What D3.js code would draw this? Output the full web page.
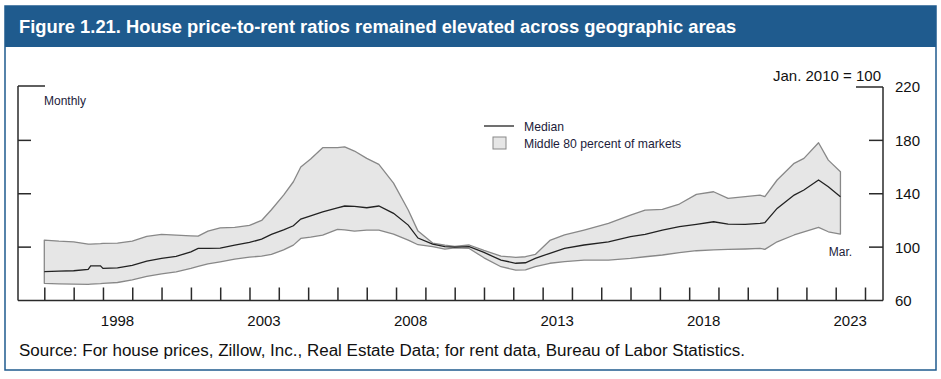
<!DOCTYPE html>
<html>
<head>
<meta charset="utf-8">
<script src="https://cdn.jsdelivr.net/npm/d3@7/dist/d3.min.js"></script>
<style>
  html, body { margin: 0; padding: 0; background: #fff; }
  svg { display: block; }
  text { font-family: "Liberation Sans", Arial, sans-serif; }
</style>
</head>
<body>
<svg id="chart" width="941" height="379"></svg>
<script>
// ---- Data ----
const months = [
  "1996-01","1996-07","1997-01","1997-07","1997-08","1997-12","1998-01","1998-07",
  "1999-01","1999-07","2000-01","2000-07","2001-01","2001-04","2001-08","2002-01",
  "2002-07","2003-01","2003-06","2003-10","2004-03","2004-07","2004-10","2005-02",
  "2005-07","2006-01","2006-04","2006-08","2007-01","2007-06","2007-12","2008-06",
  "2008-10","2009-04","2009-09","2010-01","2010-07","2011-01","2011-08","2012-02",
  "2012-06","2012-10","2013-04","2013-10","2014-06","2015-04","2016-01","2016-07",
  "2017-02","2017-09","2018-04","2018-11","2019-05","2019-12","2020-06","2020-08",
  "2021-01","2021-08","2021-12","2022-06","2022-10","2023-03"
];
const median = [
  81.6, 82.0, 82.3, 83.4, 86.0, 86.0, 84.1, 84.5,
  86.4, 89.5, 91.5, 93.0, 96.5, 99.0, 99.0, 99.2,
  101.5, 103.5, 106.0, 109.5, 113.0, 116.0, 121.0, 123.5,
  126.5, 129.5, 130.8, 130.5, 129.5, 130.8, 125.3, 116.5,
  106.8, 102.3, 100.3, 100.0, 100.3, 96.0, 90.3, 87.9,
  88.3, 91.6, 95.4, 99.1, 101.6, 104.0, 107.8, 109.6,
  112.8, 115.3, 117.1, 119.0, 117.3, 117.1, 117.8, 118.3,
  129.0, 139.0, 142.8, 150.3, 145.2, 137.8
];
const upper = [
  105.3, 104.5, 104.0, 102.3, 102.2, 102.6, 102.8, 103.0,
  104.5, 108.0, 109.5, 109.0, 108.5, 108.3, 112.0, 114.5,
  114.8, 116.3, 120.0, 128.0, 139.0, 149.0, 160.0, 166.0,
  174.5, 174.5, 175.2, 172.0, 166.5, 162.0, 148.0, 127.8,
  112.0, 103.0, 101.5, 100.5, 101.6, 97.5, 93.3, 92.3,
  92.8, 94.5, 105.0, 109.1, 112.8, 117.8, 124.0, 127.8,
  128.3, 132.3, 139.5, 141.5, 136.5, 137.8, 139.0, 137.8,
  150.3, 162.8, 166.5, 178.2, 165.2, 156.5
];
const lower = [
  72.9, 72.5, 72.2, 72.1, 72.2, 72.6, 72.9, 73.5,
  75.5, 78.0, 80.0, 81.5, 84.0, 85.5, 87.5, 89.0,
  91.0, 92.5, 93.3, 94.5, 98.0, 101.5, 106.5, 107.5,
  109.0, 113.3, 113.0, 112.0, 112.8, 112.8, 109.8, 105.3,
  101.8, 100.3, 98.5, 99.5, 99.0, 92.0, 85.3, 82.8,
  83.0, 85.3, 87.9, 89.1, 90.3, 90.3, 91.6, 92.8,
  94.1, 95.8, 97.3, 98.0, 98.3, 98.6, 99.1, 98.3,
  104.0, 109.1, 111.5, 114.8, 111.5, 109.8
];
const yTicks = [60, 100, 140, 180, 220];
const xLabelYears = [1998, 2003, 2008, 2013, 2018, 2023];

const titleText = "Figure 1.21. House price-to-rent ratios remained elevated across geographic areas";
const sourceText = "Source: For house prices, Zillow, Inc., Real Estate Data; for rent data, Bureau of Labor Statistics.";

// ---- Setup ----
const svg = d3.select("#chart");
const parse = d3.timeParse("%Y-%m");
const data = months.map((m, i) => ({ date: parse(m), med: median[i], hi: upper[i], lo: lower[i] }));

const blue = "#1f5b8e";
const axisColor = "#2a2a2a";

// Frame
svg.append("rect").attr("x", 5).attr("y", 6).attr("width", 931).attr("height", 364)
  .attr("fill", "none").attr("stroke", blue).attr("stroke-width", 1.5);
svg.append("rect").attr("x", 5).attr("y", 6).attr("width", 931).attr("height", 41).attr("fill", blue);

const title = svg.append("text").attr("x", 19).attr("y", 33)
  .attr("fill", "#fff").attr("font-weight", "bold")
  .style("font-family", "'Liberation Sans Narrow', 'Arial Narrow', sans-serif")
  .attr("font-size", 19).text(titleText);
const tw = title.node().getComputedTextLength();
title.attr("font-size", (19 * 717 / tw).toFixed(2));

// Scales
const x = d3.scaleTime()
  .domain([new Date(1996, 0, 1), new Date(2024, 0, 1)])
  .range([44.3, 865]);
const y = d3.scaleLinear().domain([60, 220]).range([300.5, 87]);

const xLeft = 18, xRight = 883;

// Band
const area = d3.area().x(d => x(d.date)).y0(d => y(d.lo)).y1(d => y(d.hi));
svg.append("path")
  .attr("d", area(data) + "Z")
  .attr("fill", "#e6e6e6").attr("stroke", "#888").attr("stroke-width", 1.3)
  .attr("stroke-linejoin", "round");

// Median
const line = d3.line().x(d => x(d.date)).y(d => y(d.med));
svg.append("path").datum(data).attr("d", line)
  .attr("fill", "none").attr("stroke", "#222").attr("stroke-width", 1.3);

// Axes lines
const g = svg.append("g").attr("stroke", axisColor).attr("stroke-width", 1.5).attr("fill", "none");
g.append("line").attr("x1", xLeft).attr("x2", xRight).attr("y1", y(60)).attr("y2", y(60));
g.append("line").attr("x1", xLeft).attr("x2", xLeft).attr("y1", y(220) - 1).attr("y2", y(60));
g.append("line").attr("x1", xLeft).attr("x2", xLeft + 27).attr("y1", y(220) - 1).attr("y2", y(220) - 1);
g.append("line").attr("x1", xRight).attr("x2", xRight).attr("y1", y(220)).attr("y2", y(60));
g.append("line").attr("x1", xRight - 27).attr("x2", xRight).attr("y1", y(220)).attr("y2", y(220));

yTicks.filter(v => v > 60 && v < 220).forEach(v => {
  g.append("line").attr("x1", xLeft).attr("x2", xLeft + 13).attr("y1", y(v)).attr("y2", y(v));
  g.append("line").attr("x1", xRight - 14).attr("x2", xRight).attr("y1", y(v)).attr("y2", y(v));
});

// Right y labels
svg.append("g").selectAll("text").data(yTicks).join("text")
  .attr("x", 895).attr("y", d => y(d)).attr("dy", "0.36em")
  .attr("font-size", 15).attr("fill", "#111").text(d => d);

// x axis yearly ticks
const xAxis = d3.axisTop(x).ticks(d3.timeYear.every(1)).tickSize(13).tickFormat("");
const xa = svg.append("g").attr("transform", `translate(0,${y(60)})`).call(xAxis);
xa.select(".domain").remove();
xa.selectAll(".tick line").attr("stroke", axisColor).attr("stroke-width", 1.5);

// x labels at mid-year
svg.append("g").selectAll("text").data(xLabelYears).join("text")
  .attr("x", d => x(new Date(d, 6, 1))).attr("y", 326)
  .attr("text-anchor", "middle").attr("font-size", 15).attr("fill", "#111").text(d => d);

// Annotations
svg.append("text").attr("x", 881).attr("y", 80.5).attr("text-anchor", "end")
  .attr("font-size", 15).attr("fill", "#111").text("Jan. 2010 = 100");
svg.append("text").attr("x", 44).attr("y", 105).attr("font-size", 12).attr("fill", "#1c1c3a").text("Monthly");
svg.append("text").attr("x", x(new Date(2023, 2, 1))).attr("y", 256).attr("text-anchor", "middle")
  .attr("font-size", 12).attr("fill", "#1c1c3a").text("Mar.");

// Legend
svg.append("line").attr("x1", 484).attr("x2", 514).attr("y1", 126).attr("y2", 126)
  .attr("stroke", "#222").attr("stroke-width", 1.3);
svg.append("text").attr("x", 524).attr("y", 130.5).attr("font-size", 12.2).attr("fill", "#1c1c3a").text("Median");
svg.append("rect").attr("x", 493).attr("y", 137).attr("width", 13).attr("height", 12)
  .attr("fill", "#e6e6e6").attr("stroke", "#888").attr("stroke-width", 1);
svg.append("text").attr("x", 524).attr("y", 148).attr("font-size", 12.2).attr("fill", "#1c1c3a").text("Middle 80 percent of markets");

// Source
svg.append("text").attr("x", 19).attr("y", 356).attr("font-size", 16).attr("fill", "#111")
  .attr("textLength", 726).attr("lengthAdjust", "spacingAndGlyphs").text(sourceText);
</script>
</body>
</html>
